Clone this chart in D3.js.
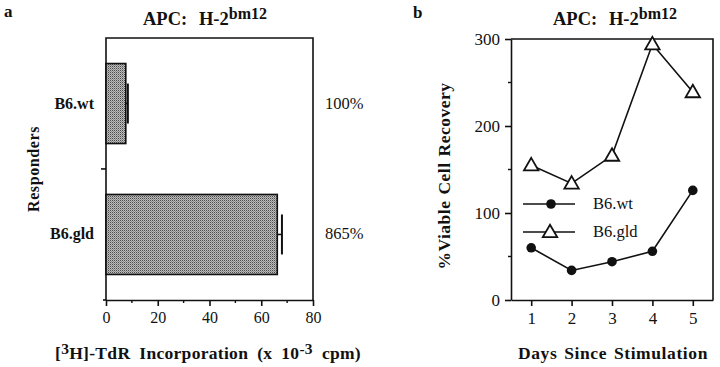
<!DOCTYPE html>
<html>
<head>
<meta charset="utf-8">
<script src="https://cdn.jsdelivr.net/npm/d3@7"></script>
<style>
  body { margin: 0; background: #fff; }
  svg { display: block; }
  text { font-family: "Liberation Serif", "Times New Roman", serif; fill: #111; }
  .bold { font-weight: bold; }
</style>
</head>
<body>
<svg id="chart" width="720" height="367"></svg>
<script>
//////////////// Daten ////////////////////
const responders = ["B6.wt", "B6.gld"];
const incorporation = [7.65, 66.2];       // x 10^-3 cpm
const incorporationErr = [0.8, 1.8];
const percentLabels = ["100%", "865%"];
const xTicksA = [0, 20, 40, 60, 80];
const xMinorA = [10, 30, 50, 70];

const days = [1, 2, 3, 4, 5];
const wtRecovery = [60, 34, 44, 56, 126];
const gldRecovery = [155, 134, 166, 294, 239];
const yTicksB = [0, 100, 200, 300];
const yMinorB = [50, 150, 250];

//////////////// Konstanten ////////////////////
const boxA = {left: 106, right: 313, top: 38, bottom: 300},
  boxB = {left: 511, right: 713, top: 39, bottom: 300};

const svg = d3.select("#chart");

// Punktraster fuer die Balken
const defs = svg.append("defs");
const pat = defs.append("pattern")
  .attr("id", "stipple")
  .attr("width", 2).attr("height", 2)
  .attr("patternUnits", "userSpaceOnUse");
pat.append("rect").attr("width", 2).attr("height", 2).attr("fill", "#bdbdbd");
pat.append("rect").attr("width", 1).attr("height", 1).attr("fill", "#4a4a4a");
pat.append("rect").attr("x", 1).attr("y", 1).attr("width", 1).attr("height", 1).attr("fill", "#8a8a8a");

// Wortabstand so setzen, dass der Text die Zielbreite bekommt
function spreadWords(sel, target) {
  const node = sel.node();
  const natural = node.getComputedTextLength();
  const gaps = (node.textContent.match(/ +/g) || []).length;
  if (gaps > 0) sel.attr("word-spacing", Math.max(0, (target - natural) / gaps));
  return sel;
}

function title(x, y) {
  const t = svg.append("text")
    .attr("class", "bold")
    .attr("x", x).attr("y", y)
    .attr("font-size", 18.5);
  t.append("tspan").text("APC: H-2");
  t.append("tspan").attr("dy", -6).attr("font-size", 16).text("bm12");
  spreadWords(t, 124);
}

function styleAxis(g, size) {
  g.select(".domain").attr("stroke", "#111").attr("stroke-width", 1.6);
  g.selectAll(".tick line").attr("stroke", "#111").attr("stroke-width", 1.6);
  g.selectAll(".tick text")
    .attr("font-family", "Liberation Serif, serif")
    .attr("font-size", size)
    .attr("fill", "#111");
}

//////////////// Panel a ///////////////
svg.append("text").attr("class", "bold").attr("x", 4).attr("y", 17)
  .attr("font-size", 17).text("a");
title(143, 25);

const xA = d3.scaleLinear().domain([0, 80]).range([boxA.left, boxA.right]);
const yA = d3.scaleBand().domain(responders)
  .range([boxA.top, boxA.bottom])
  .paddingInner(0.389).paddingOuter(0.195);

svg.append("g")
  .attr("transform", "translate(0," + boxA.bottom + ")")
  .call(d3.axisBottom(xA).tickValues(xTicksA).tickSize(6).tickSizeOuter(0).tickPadding(6))
  .call(styleAxis, 16);
svg.append("g")
  .attr("transform", "translate(0," + boxA.bottom + ")")
  .selectAll("line").data(xMinorA).enter().append("line")
  .attr("x1", d => xA(d)).attr("x2", d => xA(d))
  .attr("y1", 0).attr("y2", 3)
  .attr("stroke", "#111").attr("stroke-width", 1.4);
svg.append("line")
  .attr("x1", boxA.left - 3).attr("x2", boxA.left)
  .attr("y1", boxA.bottom).attr("y2", boxA.bottom)
  .attr("stroke", "#111").attr("stroke-width", 1.6);

// Rahmen
svg.append("path")
  .attr("d", "M" + boxA.left + "," + boxA.bottom + "V" + boxA.top + "H" + boxA.right + "V" + boxA.bottom)
  .attr("fill", "none").attr("stroke", "#111").attr("stroke-width", 1.6);
// Trennstrich zwischen den Kategorien
svg.append("line")
  .attr("x1", boxA.left - 5).attr("x2", boxA.left)
  .attr("y1", boxA.top + yA.step()).attr("y2", boxA.top + yA.step())
  .attr("stroke", "#111").attr("stroke-width", 1.6);

svg.selectAll("rect.bar")
  .data(responders).enter().append("rect")
  .attr("class", "bar")
  .attr("x", xA(0))
  .attr("y", d => yA(d))
  .attr("width", (d, i) => xA(incorporation[i]) - xA(0))
  .attr("height", yA.bandwidth())
  .attr("fill", "url(#stipple)")
  .attr("stroke", "#111").attr("stroke-width", 1.6);

// Fehlerbalken
responders.forEach(function(d, i) {
  const cy = yA(d) + yA.bandwidth() / 2,
    xe = xA(incorporation[i] + incorporationErr[i]);
  svg.append("line")
    .attr("x1", xA(incorporation[i])).attr("x2", xe)
    .attr("y1", cy).attr("y2", cy)
    .attr("stroke", "#111").attr("stroke-width", 1.6);
  svg.append("line")
    .attr("x1", xe).attr("x2", xe)
    .attr("y1", cy - 20).attr("y2", cy + 20)
    .attr("stroke", "#111").attr("stroke-width", 2);
});

svg.selectAll("text.resp")
  .data(responders).enter().append("text")
  .attr("class", "resp bold")
  .attr("x", 94)
  .attr("y", d => yA(d) + yA.bandwidth() / 2 + 5)
  .attr("text-anchor", "end")
  .attr("font-size", 16)
  .text(d => d);

svg.selectAll("text.pct")
  .data(responders).enter().append("text")
  .attr("class", "pct")
  .attr("x", 325)
  .attr("y", d => yA(d) + yA.bandwidth() / 2 + 5)
  .attr("font-size", 16.5)
  .text((d, i) => percentLabels[i]);

svg.append("text")
  .attr("class", "bold")
  .attr("transform", "translate(39,169) rotate(-90)")
  .attr("text-anchor", "middle")
  .attr("font-size", 16)
  .attr("letter-spacing", 0.6)
  .text("Responders");

const xtA = svg.append("text")
  .attr("class", "bold")
  .attr("x", 55).attr("y", 359)
  .attr("font-size", 17.5)
  .attr("letter-spacing", 0.3);
xtA.append("tspan").text("[");
xtA.append("tspan").attr("dy", -5).attr("font-size", 15.5).text("3");
xtA.append("tspan").attr("dy", 5).text("H]-TdR Incorporation (x 10");
xtA.append("tspan").attr("dy", -5).attr("font-size", 15.5).text("-3");
xtA.append("tspan").attr("dy", 5).text(" cpm)");
spreadWords(xtA, 306);

//////////////// Panel b ///////////////
svg.append("text").attr("class", "bold").attr("x", 413).attr("y", 18)
  .attr("font-size", 17).text("b");
title(553, 25);

const xB = d3.scaleLinear().domain([0.5, 5.5]).range([boxB.left, boxB.right]);
const yB = d3.scaleLinear().domain([0, 300]).range([boxB.bottom, boxB.top]);

svg.append("g")
  .attr("transform", "translate(0," + boxB.bottom + ")")
  .call(d3.axisBottom(xB).tickValues(days).tickFormat(d3.format("d"))
    .tickSize(6).tickSizeOuter(0).tickPadding(6))
  .call(styleAxis, 17);
svg.append("g")
  .attr("transform", "translate(" + boxB.left + ",0)")
  .call(d3.axisLeft(yB).tickValues(yTicksB).tickSize(6).tickSizeOuter(0).tickPadding(5))
  .call(styleAxis, 17);
svg.append("g")
  .attr("transform", "translate(" + boxB.left + ",0)")
  .selectAll("line").data(yMinorB).enter().append("line")
  .attr("y1", d => yB(d)).attr("y2", d => yB(d))
  .attr("x1", 0).attr("x2", -3)
  .attr("stroke", "#111").attr("stroke-width", 1.4);

svg.append("path")
  .attr("d", "M" + boxB.left + "," + boxB.top + "H" + boxB.right + "V" + boxB.bottom)
  .attr("fill", "none").attr("stroke", "#111").attr("stroke-width", 1.6);

const line = d3.line().x(d => xB(d[0])).y(d => yB(d[1]));
const wtData = days.map((d, i) => [d, wtRecovery[i]]);
const gldData = days.map((d, i) => [d, gldRecovery[i]]);

[wtData, gldData].forEach(function(data) {
  svg.append("path").datum(data)
    .attr("d", line)
    .attr("fill", "none").attr("stroke", "#111").attr("stroke-width", 1.6);
});

const tri = d3.symbol().type(d3.symbolTriangle).size(90);

svg.selectAll("path.gld")
  .data(gldData).enter().append("path")
  .attr("class", "gld")
  .attr("d", tri)
  .attr("transform", d => "translate(" + xB(d[0]) + "," + (yB(d[1]) + 1) + ")")
  .attr("fill", "#fff").attr("stroke", "#111").attr("stroke-width", 1.8);

svg.selectAll("circle.wt")
  .data(wtData).enter().append("circle")
  .attr("class", "wt")
  .attr("cx", d => xB(d[0])).attr("cy", d => yB(d[1]))
  .attr("r", 4.8)
  .attr("fill", "#111");

// Legende
const legend = svg.append("g").attr("transform", "translate(523,204)");
legend.append("line").attr("x1", 0).attr("x2", 52).attr("y1", 0).attr("y2", 0)
  .attr("stroke", "#111").attr("stroke-width", 1.6);
legend.append("circle").attr("cx", 28).attr("cy", 0).attr("r", 4.8).attr("fill", "#111");
legend.append("text").attr("x", 70).attr("y", 5).attr("font-size", 16.5).text("B6.wt");
legend.append("line").attr("x1", 0).attr("x2", 52).attr("y1", 28).attr("y2", 28)
  .attr("stroke", "#111").attr("stroke-width", 1.6);
legend.append("path").attr("d", tri)
  .attr("transform", "translate(27,29)")
  .attr("fill", "#fff").attr("stroke", "#111").attr("stroke-width", 1.8);
legend.append("text").attr("x", 70).attr("y", 33).attr("font-size", 16.5).text("B6.gld");

const ytB = svg.append("text")
  .attr("class", "bold")
  .attr("transform", "translate(450,176) rotate(-90)")
  .attr("text-anchor", "middle")
  .attr("font-size", 17.5)
  .attr("letter-spacing", 0.5)
  .text("%Viable Cell Recovery");
spreadWords(ytB, 187);

const xtB = svg.append("text")
  .attr("class", "bold")
  .attr("x", 613).attr("y", 359)
  .attr("text-anchor", "middle")
  .attr("font-size", 17.5)
  .attr("letter-spacing", 0.6)
  .text("Days Since Stimulation");
spreadWords(xtB, 190);
</script>
</body>
</html>
